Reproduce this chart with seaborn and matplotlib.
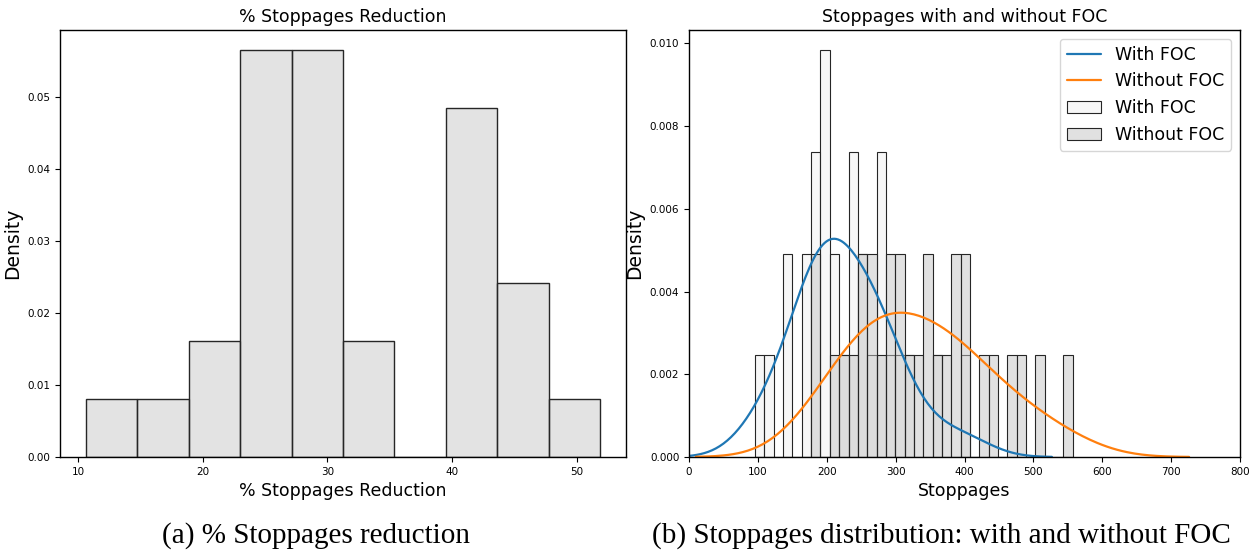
import numpy as np
import matplotlib
matplotlib.use("Agg")
import matplotlib.pyplot as plt
import seaborn as sns

# Percentage reduction in stoppages per case (30 cases)
reduction_pct = [
    10.6, 16.8, 20.4, 22.1,
    23.5, 24.2, 24.9, 25.6, 26.0, 26.4, 26.9,
    27.5, 28.1, 28.6, 29.0, 29.7, 30.3, 30.9,
    32.4, 34.1,
    39.9, 40.6, 41.2, 41.8, 42.5, 43.1,
    44.2, 45.3, 46.6, 51.9,
]

# Stoppage counts with the FOC enabled (30 cases)
stoppages_with_foc = [
    96, 115, 140, 145, 167, 172, 179, 183, 187,
    192, 194, 196, 199, 206, 209, 222, 233, 235, 238,
    247, 251, 263, 274, 277, 281, 289, 302, 316, 361, 406,
]

# Stoppage counts without the FOC (30 cases)
stoppages_without_foc = [
    179, 186, 211, 226, 239, 248, 254, 262, 268, 281,
    289, 295, 303, 309, 320, 333, 344, 350, 359, 374,
    384, 391, 398, 404, 428, 441, 469, 482, 510, 557,
]

series_labels = ["With FOC", "Without FOC"]
reduction_bin_count = 10
stoppage_bin_count = 34

sns.set_style("ticks", rc={
    "axes.edgecolor": "black", "text.color": "black", "axes.labelcolor": "black",
    "xtick.color": "black", "ytick.color": "black",
})
plt.rcParams["font.family"] = ["DejaVu Sans"]

W, H = 1253, 552
fig = plt.figure(figsize=(W / 100, H / 100), dpi=100)
ax1 = fig.add_axes([60 / W, 1 - 457 / H, 566 / W, 427 / H])
ax2 = fig.add_axes([689 / W, 1 - 457 / H, 551 / W, 427 / H])

TICK_FS = 7.5
LABEL_FS = 12.5
EDGE = "#262626"

# (a) distribution of the percentage reduction
sns.histplot(x=reduction_pct, bins=reduction_bin_count, stat="density",
             color="#c8c8c8", alpha=0.5, edgecolor=EDGE, linewidth=1.0, ax=ax1)
ax1.set_title("% Stoppages Reduction", fontsize=LABEL_FS)
ax1.set_xlabel("% Stoppages Reduction", fontsize=LABEL_FS)
ax1.set_ylabel("Density", fontsize=LABEL_FS + 1)

# (b) stoppages with and without FOC, on shared bins
edges = np.histogram_bin_edges(
    np.concatenate([stoppages_with_foc, stoppages_without_foc]), bins=stoppage_bin_count)
sns.histplot(x=stoppages_with_foc, bins=edges, stat="density",
             color="#f0f0f0", alpha=0.5, edgecolor=EDGE, linewidth=0.8, ax=ax2)
sns.histplot(x=stoppages_without_foc, bins=edges, stat="density",
             color="#c5c5c5", alpha=0.5, edgecolor=EDGE, linewidth=0.8, ax=ax2)
sns.kdeplot(x=stoppages_with_foc, bw_adjust=1.15, color="C0", linewidth=1.6, ax=ax2)
sns.kdeplot(x=stoppages_without_foc, bw_adjust=1.15, color="C1", linewidth=1.6, ax=ax2)
ax2.set_xlim(0, 800)
ax2.set_title("Stoppages with and without FOC", fontsize=LABEL_FS)
ax2.set_xlabel("Stoppages", fontsize=LABEL_FS)
ax2.set_ylabel("Density", fontsize=LABEL_FS + 1)
ax2.legend(handles=[ax2.lines[0], ax2.lines[1], ax2.containers[0], ax2.containers[1]],
           labels=series_labels + series_labels, loc="upper right", fontsize=LABEL_FS)

for ax in (ax1, ax2):
    ax.tick_params(labelsize=TICK_FS)
    for s in ax.spines.values():
        s.set_linewidth(1.0)

cap_font = dict(family=["Liberation Serif", "DejaVu Serif"], fontsize=21,
                ha="center", va="center", color="black")
fig.text(316 / W, 1 - 536 / H, "(a) % Stoppages reduction", **cap_font)
fig.text(941 / W, 1 - 536 / H, "(b) Stoppages distribution: with and without FOC", **cap_font)

fig.savefig("out.png", dpi=100)
